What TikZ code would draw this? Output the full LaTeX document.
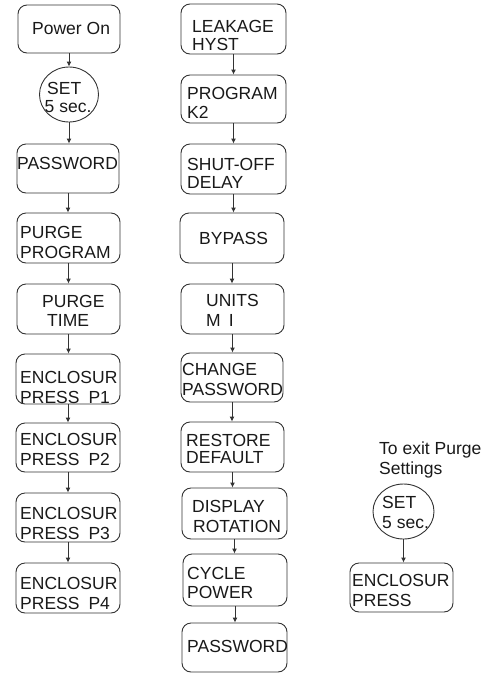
\documentclass[tikz,border=0pt]{standalone}
\usepackage{fontspec}
\setmainfont{Liberation Sans}
\usetikzlibrary{arrows.meta,shapes.geometric}
\tikzset{
  box/.style={draw=black!80, line width=0.9pt, rounded corners=9pt, inner sep=0pt},
  oval/.style={draw=black!80, line width=0.9pt, ellipse, inner sep=0pt},
  txt/.style={inner sep=0pt, anchor=base west, font=\fontsize{17.5}{20}\selectfont, text=black!90},
  arr/.style={draw=black!80, line width=0.9pt, -{Latex[length=5pt,width=5pt]}}
}
\newcommand\tx[4]{\node[txt] (#1) at (#2,{#3+6.3}) {#4};}
\begin{document}
\begin{tikzpicture}[x=1pt,y=-1pt]
\useasboundingbox (0,0) rectangle (494,673);
% left column
\node[box, minimum width=102pt, minimum height=48pt] (pon) at (69,29) {};
\node[oval, minimum width=59pt, minimum height=55pt] (set1) at (69,94.5) {};
\node[box, minimum width=102pt, minimum height=49pt] (pw1) at (68,168.5) {};
\node[box, minimum width=103pt, minimum height=50pt] (pp) at (68.5,238) {};
\node[box, minimum width=103pt, minimum height=50pt] (pt) at (68.5,309) {};
\node[box, minimum width=104pt, minimum height=50pt] (e1) at (68,379) {};
\node[box, minimum width=104pt, minimum height=49pt] (e2) at (68,447.5) {};
\node[box, minimum width=104pt, minimum height=49pt] (e3) at (68,517.5) {};
\node[box, minimum width=104pt, minimum height=50pt] (e4) at (68,588) {};
% middle column
\node[box, minimum width=105pt, minimum height=50pt] (lk) at (233.5,29) {};
\node[box, minimum width=105pt, minimum height=48pt] (k2) at (233.5,99) {};
\node[box, minimum width=105pt, minimum height=50pt] (sd) at (233.5,169) {};
\node[box, minimum width=104pt, minimum height=50pt] (bp) at (232,238) {};
\node[box, minimum width=103pt, minimum height=50pt] (un) at (232.5,309) {};
\node[box, minimum width=102pt, minimum height=49pt] (cp) at (232,377.5) {};
\node[box, minimum width=103pt, minimum height=50pt] (rd) at (232.5,447) {};
\node[box, minimum width=105pt, minimum height=51pt] (dr) at (234.5,513.5) {};
\node[box, minimum width=104pt, minimum height=52pt] (cy) at (235,580) {};
\node[box, minimum width=105pt, minimum height=49pt] (pw2) at (234.5,647.5) {};
% right
\node[oval, minimum width=61pt, minimum height=55pt] (set2) at (403.5,511.5) {};
\node[box, minimum width=103pt, minimum height=49pt] (en) at (401.5,587.5) {};
% arrows
\foreach \a/\b in {pon/set1,set1/pw1,pw1/pp,pp/pt,pt/e1,e1/e2,e2/e3,e3/e4,
  lk/k2,k2/sd,sd/bp,bp/un,un/cp,cp/rd,rd/dr,dr/cy,cy/pw2,set2/en}
  \draw[arr] (\a.south) -- (\a.south |- \b.north);
% texts
\tx{t1}{32}{28.5}{Power On}
\tx{t2}{47}{88.5}{SET}
\tx{t3}{44.5}{106}{5 sec.}
\tx{t4}{17}{163}{PASSWORD}
\tx{t5}{20}{232.5}{PURGE}
\tx{t6}{20}{252.5}{PROGRAM}
\tx{t7}{42}{301.5}{PURGE}
\tx{t8}{47}{320.5}{TIME}
\tx{t9}{20}{377.5}{ENCLOSUR}
\tx{t10}{20}{397.5}{PRESS\hspace{9pt}P1}
\tx{t11}{20}{439.5}{ENCLOSUR}
\tx{t12}{20}{459.5}{PRESS\hspace{9pt}P2}
\tx{t13}{20}{513}{ENCLOSUR}
\tx{t14}{20}{533}{PRESS\hspace{9pt}P3}
\tx{t15}{20}{583}{ENCLOSUR}
\tx{t16}{20}{603}{PRESS\hspace{9pt}P4}
\tx{m1}{192}{26}{LEAKAGE}
\tx{m2}{192}{44}{HYST}
\tx{m3}{187}{93}{PROGRAM}
\tx{m4}{187}{112.5}{K2}
\tx{m5}{187}{164}{SHUT-OFF}
\tx{m6}{187}{182.5}{DELAY}
\tx{m7}{199}{238.5}{BYPASS}
\tx{m8}{206}{300.5}{UNITS}
\tx{m9}{206}{320.5}{M\hspace{8pt}I}
\tx{m10}{182}{369}{CHANGE}
\tx{m11}{182}{389}{PASSWORD}
\tx{m12}{186}{440}{RESTORE}
\tx{m13}{186}{457.5}{DEFAULT}
\tx{m14}{192}{506}{DISPLAY}
\tx{m15}{193}{526}{ROTATION}
\tx{m16}{187}{573}{CYCLE}
\tx{m17}{187}{592}{POWER}
\tx{m18}{187}{646}{PASSWORD}
\tx{r1}{379}{448.5}{To exit Purge}
\tx{r2}{379}{468.5}{Settings}
\tx{r3}{382}{502.5}{SET}
\tx{r4}{382}{522.5}{5 sec.}
\tx{r5}{352}{580}{ENCLOSUR}
\tx{r6}{352}{600}{PRESS}
\end{tikzpicture}
\end{document}
